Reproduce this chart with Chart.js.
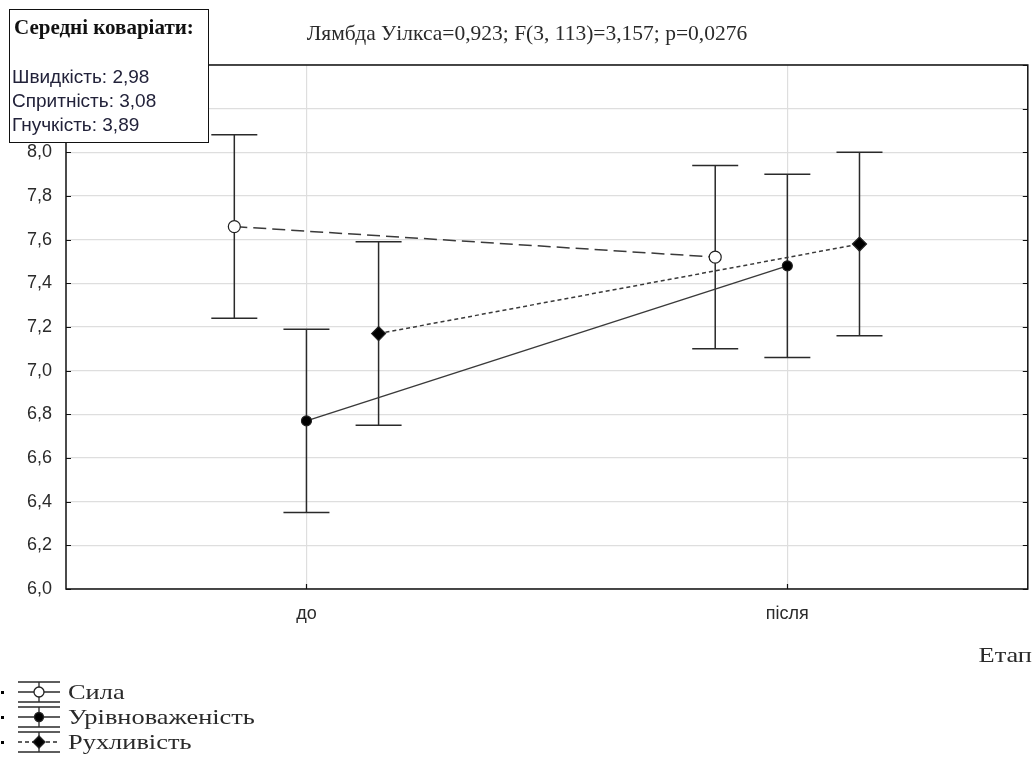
<!DOCTYPE html>
<html>
<head>
<meta charset="utf-8">
<script src="https://cdn.jsdelivr.net/npm/chart.js@4.4.1/dist/chart.umd.min.js"></script>
<style>
  html, body { margin: 0; padding: 0; background: #fff; }
  #wrap { width: 1036px; height: 776px; }
</style>
</head>
<body>
<div id="wrap"><canvas id="c" width="1036" height="776"></canvas></div>
<script>
// Stages and groups
const stages = ['до', 'після'];
const seriesNames = ['Сила', 'Урівноваженість', 'Рухливість'];

// Adjusted means and half-widths of the confidence intervals
const silaMean = [7.66, 7.52];
const silaErr  = [0.42, 0.42];
const urivMean = [6.77, 7.48];
const urivErr  = [0.42, 0.42];
const rukhMean = [7.17, 7.58];
const rukhErr  = [0.42, 0.42];

// Covariate means and test statistics
const covTitle = 'Середні коваріати:';
const covariates = ['Швидкість: 2,98', 'Спритність: 3,08', 'Гнучкість: 3,89'];
const statLine = 'Лямбда Уілкса=0,923; F(3, 113)=3,157; p=0,0276';
const xAxisTitle = 'Етап';

// Y axis range
const yMin = 6.0, yMax = 8.4, yStep = 0.2;

const SERIF = '"Liberation Serif", "Times New Roman", serif';
const SANS = '"Liberation Sans", Arial, sans-serif';
const INK = '#2a2a2a';

// horizontal offset of each group inside a stage
const groupShift = [-0.15, 0, 0.15];

const seriesStyle = [
  { dash: [13, 6], pointStyle: 'circle', radius: 6, fill: '#ffffff', legendRadius: 5 },
  { dash: [], pointStyle: 'circle', radius: 5, fill: '#000000', legendRadius: 4.5 },
  { dash: [4, 3], pointStyle: 'rectRot', radius: 7, fill: '#000000', legendRadius: 6 }
];

const means = [silaMean, urivMean, rukhMean];
const errs = [silaErr, urivErr, rukhErr];

const datasets = seriesNames.map((name, s) => ({
  label: name,
  data: stages.map((st, i) => ({ x: i + groupShift[s], y: means[s][i] })),
  errors: errs[s],
  borderColor: '#3a3a3a',
  borderWidth: 1.5,
  borderDash: seriesStyle[s].dash,
  pointStyle: seriesStyle[s].pointStyle,
  pointRadius: seriesStyle[s].radius,
  pointHoverRadius: seriesStyle[s].radius,
  pointBackgroundColor: seriesStyle[s].fill,
  pointBorderColor: '#222',
  pointBorderWidth: 1.2,
  tension: 0,
  fill: false
}));

// Vertical interval bars with caps, drawn under the markers
const errorBars = {
  id: 'errorBars',
  beforeDatasetsDraw(chart) {
    const { ctx, scales: { x, y } } = chart;
    ctx.save();
    ctx.strokeStyle = INK;
    ctx.lineWidth = 1.5;
    ctx.setLineDash([]);
    chart.data.datasets.forEach(ds => {
      ds.data.forEach((p, i) => {
        const px = x.getPixelForValue(p.x);
        const top = y.getPixelForValue(p.y + ds.errors[i]);
        const bot = y.getPixelForValue(p.y - ds.errors[i]);
        const half = 23;
        ctx.beginPath();
        ctx.moveTo(px, top); ctx.lineTo(px, bot);
        ctx.moveTo(px - half, top); ctx.lineTo(px + half, top);
        ctx.moveTo(px - half, bot); ctx.lineTo(px + half, bot);
        ctx.stroke();
      });
    });
    ctx.restore();
  }
};

// text drawn with a horizontal stretch
function wideText(ctx, txt, x, y, sx) {
  ctx.save();
  ctx.translate(x, y);
  ctx.scale(sx, 1);
  ctx.fillText(txt, 0, 0);
  ctx.restore();
}

// Plot frame, inward tick marks, annotations, legend
const decorations = {
  id: 'decorations',
  afterDraw(chart) {
    const { ctx, chartArea: a, scales: { x, y } } = chart;
    ctx.save();
    ctx.setLineDash([]);

    // frame
    ctx.strokeStyle = '#111';
    ctx.lineWidth = 1.5;
    ctx.strokeRect(a.left, a.top, a.right - a.left, a.bottom - a.top);

    // inward ticks
    ctx.lineWidth = 1.2;
    ctx.beginPath();
    y.ticks.forEach(t => {
      const py = Math.round(y.getPixelForValue(t.value)) + 0.5;
      ctx.moveTo(a.left, py); ctx.lineTo(a.left + 5, py);
      ctx.moveTo(a.right - 5, py); ctx.lineTo(a.right, py);
    });
    x.ticks.forEach(t => {
      const px = Math.round(x.getPixelForValue(t.value)) + 0.5;
      ctx.moveTo(px, a.bottom); ctx.lineTo(px, a.bottom - 5);
    });
    ctx.stroke();

    // statistics line
    ctx.fillStyle = INK;
    ctx.font = '21.5px ' + SERIF;
    ctx.textAlign = 'center';
    ctx.textBaseline = 'middle';
    ctx.fillText(statLine, 527, 34);

    // axis title
    ctx.font = '22px ' + SERIF;
    ctx.textAlign = 'right';
    wideText(ctx, xAxisTitle, 1032, 656, 1.2);

    // covariates box
    ctx.fillStyle = '#fff';
    ctx.fillRect(9, 9, 200, 134);
    ctx.strokeStyle = '#111';
    ctx.lineWidth = 1;
    ctx.strokeRect(9.5, 9.5, 199, 133);
    ctx.fillStyle = '#111';
    ctx.textAlign = 'left';
    ctx.font = 'bold 21px ' + SERIF;
    ctx.fillText(covTitle, 14, 29);
    ctx.font = '19px ' + SANS;
    ctx.fillStyle = '#22223a';
    covariates.forEach((txt, i) => ctx.fillText(txt, 12, 78 + i * 24));

    // legend
    const rowY = [692, 717, 742];
    chart.data.datasets.forEach((ds, s) => {
      const yc = rowY[s];
      const st = seriesStyle[s];
      ctx.fillStyle = '#000';
      ctx.fillRect(1, yc - 1, 3, 3);
      ctx.strokeStyle = INK;
      ctx.lineWidth = 1.3;
      ctx.setLineDash([]);
      ctx.beginPath();
      ctx.moveTo(18, yc - 10); ctx.lineTo(60, yc - 10);
      ctx.moveTo(18, yc + 10); ctx.lineTo(60, yc + 10);
      ctx.moveTo(39, yc - 10); ctx.lineTo(39, yc + 10);
      ctx.stroke();
      ctx.setLineDash(s === 2 ? [4, 3] : []);
      ctx.beginPath();
      ctx.moveTo(18, yc); ctx.lineTo(60, yc);
      ctx.stroke();
      ctx.setLineDash([]);
      ctx.fillStyle = st.fill;
      ctx.strokeStyle = '#222';
      ctx.beginPath();
      if (st.pointStyle === 'circle') {
        ctx.arc(39, yc, st.legendRadius, 0, Math.PI * 2);
      } else {
        const r = st.legendRadius;
        ctx.moveTo(39, yc - r); ctx.lineTo(39 + r, yc); ctx.lineTo(39, yc + r); ctx.lineTo(39 - r, yc); ctx.closePath();
      }
      ctx.fill();
      ctx.stroke();
      ctx.fillStyle = INK;
      ctx.font = '22px ' + SERIF;
      ctx.textAlign = 'left';
      ctx.textBaseline = 'middle';
      wideText(ctx, ds.label, 68, yc + 1, 1.2);
    });
    ctx.restore();
  }
};

new Chart(document.getElementById('c'), {
  type: 'line',
  data: { datasets },
  options: {
    responsive: false,
    devicePixelRatio: 1,
    animation: false,
    events: [],
    layout: { padding: { top: 65, right: 5, left: 0, bottom: 0 } },
    plugins: { legend: { display: false }, tooltip: { enabled: false }, title: { display: false } },
    scales: {
      x: {
        type: 'linear',
        min: -0.5,
        max: 1.5,
        afterBuildTicks(scale) { scale.ticks = stages.map((s, i) => ({ value: i })); },
        afterFit(scale) { scale.height = 187; },
        grid: { color: '#dedede', lineWidth: 1.2, drawTicks: false },
        border: { display: false },
        ticks: {
          padding: 14,
          color: INK,
          font: { family: SANS, size: 18 },
          callback: v => stages[v] !== undefined ? stages[v] : ''
        }
      },
      y: {
        type: 'linear',
        min: yMin,
        max: yMax,
        afterFit(scale) { scale.width = 66; },
        grid: { color: '#dedede', lineWidth: 1.2, drawTicks: false },
        border: { display: false },
        ticks: {
          stepSize: yStep,
          padding: 14,
          color: INK,
          font: { family: SANS, size: 18 },
          callback: v => v.toFixed(1).replace('.', ',')
        }
      }
    }
  },
  plugins: [errorBars, decorations]
});
</script>
</body>
</html>
